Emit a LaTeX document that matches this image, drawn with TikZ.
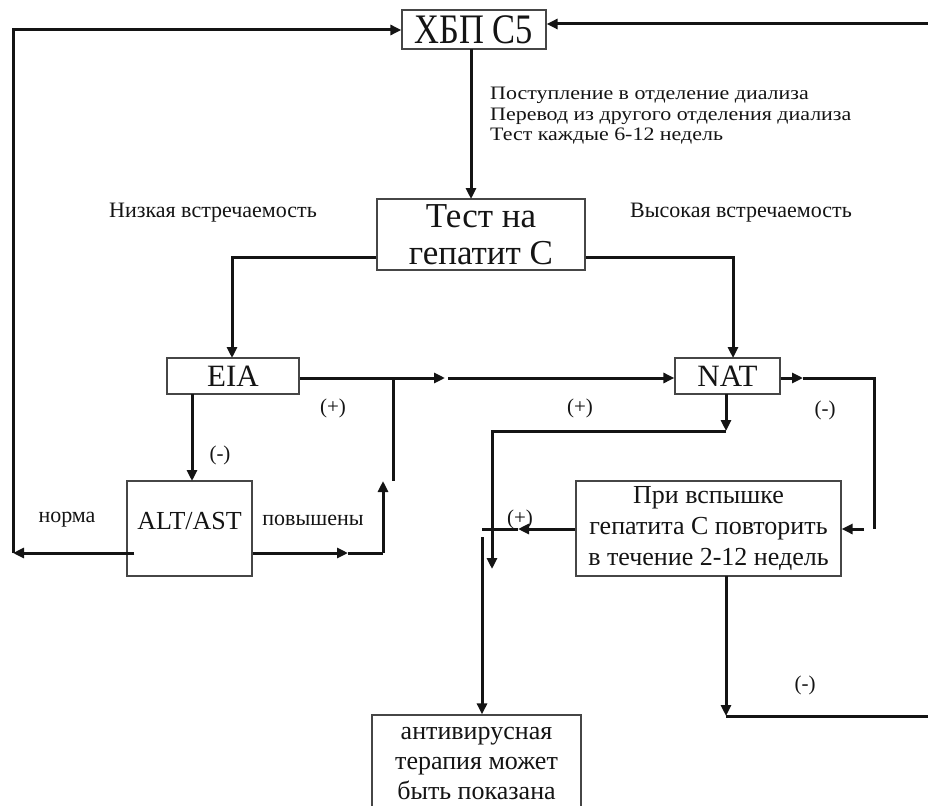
\documentclass[tikz,border=0pt]{standalone}
\usepackage{fontspec}
\setmainfont{Liberation Serif}
\usetikzlibrary{positioning, arrows.meta, calc}
\definecolor{boxgray}{RGB}{70, 70, 70}
\definecolor{inkblack}{RGB}{20, 20, 20}

\begin{document}
\begin{tikzpicture}[
    x=1pt, y=-1pt,
    box/.style={draw=boxgray, line width=1.2pt, inner sep=0pt, align=center, text=inkblack},
    arrow/.style={-{Triangle[length=11pt, width=10pt]}, line width=3pt, inkblack},
    link/.style={line width=3pt, inkblack},
    note/.style={inner sep=0pt, text=inkblack, font=\fontsize{22}{24}\selectfont},
    sign/.style={inner sep=0pt, text=inkblack, font=\fontsize{21}{23}\selectfont}
]
    \useasboundingbox (0,0) rectangle (928,805);

    % Boxes
    \node[box, minimum width=144, minimum height=39, font=\fontsize{42}{44}\selectfont] (ckd) at (474,29.5) {\scalebox{0.82}[1]{ХБП С5}};
    \node[box, minimum width=208, minimum height=71, font=\fontsize{35}{37}\selectfont] (test) at (481,234.5) {Тест на\\гепатит С};
    \node[box, minimum width=132, minimum height=36, font=\fontsize{31}{33}\selectfont] (eia) at (233,376) {EIA};
    \node[box, minimum width=105, minimum height=36, font=\fontsize{31}{33}\selectfont] (nat) at (727.5,376) {NAT};
    \node[box, minimum width=125, minimum height=95, text depth=16pt, font=\fontsize{26}{30}\selectfont] (alt) at (189.5,528.5) {ALT/AST};
    \node[box, minimum width=265, minimum height=95, font=\fontsize{26}{31}\selectfont] (retest) at (708.5,528.5) {При вспышке\\гепатита С повторить\\в течение 2-12 недель};
    \node[box, minimum width=209, minimum height=96, font=\fontsize{26}{30}\selectfont] (therapy) at (476.5,763) {антивирусная\\терапия может\\быть показана};

    % Labels
    \node[note, anchor=base west, font=\fontsize{19}{20.5}\selectfont] (adm) at (490,100) {\scalebox{1.155}[1]{\begin{tabular}[t]{@{}l@{}}Поступление в отделение диализа\\Перевод из другого отделения диализа\\Тест каждые 6-12 недель\end{tabular}}};
    \node[note] (low) at (213,213) {Низкая встречаемость};
    \node[note] (high) at (741,213) {Высокая встречаемость};
    \node[note] (norm) at (67,520) {норма};
    \node[note] (up) at (313,520) {повышены};
    \node[sign] (p1) at (333,408) {(+)};
    \node[sign] (p2) at (580,408) {(+)};
    \node[sign] (p3) at (520,519) {(+)};
    \node[sign] (m1) at (220,455) {(-)};
    \node[sign] (m2) at (825,410) {(-)};
    \node[sign] (m3) at (805,685) {(-)};

    % Corner points
    \coordinate (tl) at (13,30);
    \coordinate (bl) at (13,553);
    \coordinate (tr) at (935,24);
    \coordinate (br) at (935,716);
    \coordinate (back) at (726,716);
    \coordinate (eiamid) at (445,378);
    \coordinate (eiajoin) at (393,378);
    \coordinate (altmid) at (348,553);
    \coordinate (altup) at (383,553);
    \coordinate (natdown) at (726,431);
    \coordinate (natleft) at (492,431);
    \coordinate (retmid) at (518,529);
    \coordinate (retend) at (482,529);
    \coordinate (natmid) at (803,378);
    \coordinate (natright) at (874,378);

    % Main flow
    \draw[arrow] (471,49) -- (471,199);
    \draw[arrow] (test.west |- 0,257) -- (232,257) -- (232,358);
    \draw[arrow] (test.east |- 0,257) -- (733,257) -- (733,358);
    \draw[arrow] (192,394) -- (192,481);

    % EIA to NAT
    \draw[arrow] (eia.east |- eiamid) -- (eiamid);
    \draw[arrow] ([xshift=3]eiamid) -- (nat.west |- eiamid);
    \draw[link] (eiajoin) -- (393,481);

    % ALT/AST
    \draw[arrow] (alt.west |- bl) ++(8,0) -- (bl);
    \draw[arrow] (bl) -- (tl) -- (ckd.west |- tl);
    \draw[arrow] (alt.east |- altmid) -- (altmid);
    \draw[link] (altmid) -- (altup);
    \draw[arrow] (altup) -- (383,481);

    % NAT outcomes
    \draw[arrow] (726,394) -- (natdown);
    \draw[arrow] (natdown) -- (natleft) -- (492,569);
    \draw[arrow] (nat.east |- natmid) -- (natmid);
    \draw[link] (natmid) -- (natright) -- (874,529);
    \draw[arrow] (864,529) -- (retest.east |- 0,529);

    % Repeat test
    \draw[arrow] (retest.west |- retmid) -- (retmid);
    \draw[link] (retmid) -- (retend);
    \draw[arrow] (482,537) -- (therapy.north -| 482,0);
    \draw[arrow] (726,576) -- (back);
    \draw[arrow] (back) -- (br) -- (tr) -- (ckd.east |- tr);
\end{tikzpicture}
\end{document}
